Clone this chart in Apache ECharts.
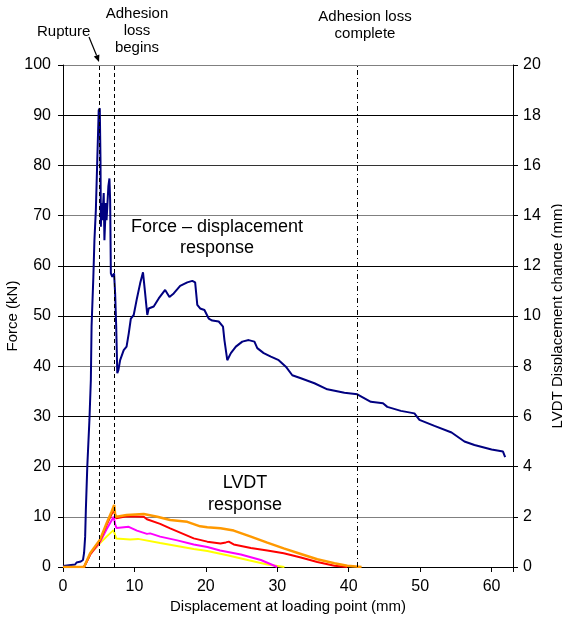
<!DOCTYPE html>
<html>
<head>
<meta charset="utf-8">
<script src="https://cdn.jsdelivr.net/npm/echarts@6/dist/echarts.min.js"></script>
<style>
html,body{margin:0;padding:0;background:#fff;}
#chart{width:562px;height:619px;}
</style>
</head>
<body>
<div id="chart"></div>
<script>
// ---- Data (displacement mm, value) ----
const forceCurve = [
  [0,0.2],[1.7,0.5],[1.9,0.9],[2.5,1.1],[2.8,1.4],[2.95,2.8],[3.1,6],[3.2,11.4],[3.4,20],[3.7,29.3],
  [3.9,37.3],[4.0,47.9],[4.25,57.8],[4.4,65.1],[4.6,71.1],[4.8,81.1],[5.0,91.0],[5.15,91.4],[5.25,81],
  [5.3,67.8],[5.4,72.5],[5.5,69.1],[5.7,74.5],[5.8,65.1],[6.0,72.5],[6.1,69.1],[6.35,75.8],[6.5,77.4],
  [6.6,73.1],[6.7,58.5],[6.9,57.8],[7.15,58.5],[7.3,54.5],[7.45,47.9],[7.6,38.6],[7.75,39.2],[8.0,41.2],
  [8.5,43.2],[8.9,43.9],[9.2,46.5],[9.5,49.5],[9.9,50.2],[10.35,53.5],[10.8,56.5],[11.2,58.7],[11.4,58.8],
  [11.5,54.5],[11.75,54.2],[11.8,50.2],[12.0,51.5],[12.7,51.9],[13.4,53.5],[14.3,55.2],[14.9,53.8],
  [15.5,54.5],[16.4,56.0],[17.4,56.7],[18.1,57.0],[18.5,56.7],[18.8,52.2],[19.2,51.5],[19.8,51.2],
  [20.4,49.5],[20.9,49.1],[21.8,48.9],[22.4,47.9],[22.6,45.2],[23.0,41.2],[23.5,42.6],[24.2,43.9],
  [25.1,44.9],[26.0,45.2],[26.8,44.9],[27.2,43.6],[28.1,42.6],[29.1,41.9],[30.2,41.2],[31.2,39.9],
  [32.1,38.2],[33.3,37.6],[35.2,36.6],[37.0,35.4],[39.4,34.7],[41.2,34.4],[43.1,32.9],[44.8,32.6],
  [45.4,31.9],[47.3,31.1],[49.2,30.6],[49.9,29.3],[52.0,28.1],[54.4,26.8],[56.2,25.0],[57.6,24.3],
  [60.0,23.4],[61.6,23.0],[61.9,21.9]
];
const lvdtOrange = [
  [0,0],[2.95,0],[3.8,0.55],[5.2,1.1],[6.1,1.74],[6.8,2.2],[7.16,2.47],[7.3,2.1],[7.5,2.0],[8.9,2.07],
  [11.3,2.11],[13.2,2.0],[15.0,1.87],[17.4,1.8],[19.2,1.62],[20.2,1.58],[22.05,1.54],[23.9,1.45],
  [26.3,1.21],[28.6,0.97],[30.9,0.74],[33.3,0.52],[35.6,0.31],[38.0,0.15],[39.8,0.05],[41.8,0]
];
const lvdtRed = [
  [0,0],[2.95,0],[3.8,0.5],[5.2,1.05],[6.1,1.68],[6.8,2.1],[7.07,2.27],[7.45,1.94],[8.9,2.02],
  [11.3,2.0],[11.75,1.9],[13.6,1.72],[15.0,1.54],[18.3,1.14],[20.2,1.01],[22.05,0.94],[22.8,0.98],
  [23.2,1.01],[23.9,0.9],[26.3,0.76],[28.6,0.66],[30.9,0.55],[33.3,0.38],[35.6,0.2],[38.0,0.05],[39.8,0]
];
const lvdtMagenta = [
  [0,0],[2.95,0],[3.8,0.5],[5.2,1.0],[6.1,1.5],[6.8,1.85],[7.1,2.0],[7.3,1.7],[7.5,1.55],[9.2,1.6],
  [10.35,1.45],[11.75,1.32],[12.2,1.34],[13.6,1.21],[16.0,1.06],[18.3,0.9],[20.2,0.8],[22.0,0.66],
  [24.9,0.5],[27.7,0.28],[30.0,0]
];
const lvdtYellow = [
  [0,0],[2.95,0],[3.8,0.5],[5.2,0.95],[6.1,1.21],[7.07,1.47],[7.45,1.14],[9.4,1.1],[10.5,1.12],
  [13.6,0.96],[18.3,0.72],[20.2,0.64],[23.0,0.47],[26.0,0.27],[28.6,0.1],[31.0,0]
];
const eventLines = [5.1, 7.15, 41.2];
const xTicks = [0, 10, 20, 30, 40, 50, 60];

const FONT = "'Liberation Sans', Arial, sans-serif";
const chart = echarts.init(document.getElementById('chart'), null, {renderer: 'canvas'});

const gridColors = ['#000','#808080','#000','#000','#808080','#000','#000','#808080','#333','#000','#808080'];

const option = {
  animation: false,
  backgroundColor: '#fff',
  textStyle: {fontFamily: FONT},
  grid: {left: 63, right: 49, top: 65, bottom: 52, containLabel: false, outerBoundsMode: 'none'},
  xAxis: {
    type: 'value', min: 0, max: 63, interval: 10,
    axisLine: {show: true, lineStyle: {color: '#000', width: 1}},
    axisTick: {show: true, length: 5, lineStyle: {color: '#000'}},
    axisLabel: {color: '#000', fontSize: 16, fontFamily: FONT, margin: 12,
      formatter: v => xTicks.includes(v) ? String(v) : ''},
    splitLine: {show: false},
    name: 'Displacement at loading point (mm)', nameLocation: 'middle', nameGap: 32, nameMoveOverlap: false,
    nameTextStyle: {color: '#000', fontSize: 15, fontFamily: FONT}
  },
  yAxis: [
    {
      type: 'value', min: 0, max: 100, interval: 10, position: 'left',
      axisLine: {show: true, lineStyle: {color: '#000', width: 1}},
      axisTick: {show: true, length: 5, lineStyle: {color: '#000'}},
      axisLabel: {color: '#000', fontSize: 16, fontFamily: FONT, margin: 12},
      splitLine: {show: true, lineStyle: {color: gridColors, width: 1}},
      name: 'Force (kN)', nameLocation: 'middle', nameGap: 43, nameRotate: 90, nameMoveOverlap: false,
      nameTextStyle: {color: '#000', fontSize: 15, fontFamily: FONT}
    },
    {
      type: 'value', min: 0, max: 20, interval: 2, position: 'right',
      axisLine: {show: true, lineStyle: {color: '#000', width: 1}},
      axisTick: {show: true, length: 5, lineStyle: {color: '#000'}},
      axisLabel: {color: '#000', fontSize: 16, fontFamily: FONT, margin: 10},
      splitLine: {show: false},
      name: 'LVDT Displacement change (mm)', nameLocation: 'middle', nameGap: 37, nameRotate: 90, nameMoveOverlap: false,
      nameTextStyle: {color: '#000', fontSize: 15, fontFamily: FONT}
    }
  ],
  series: [
    {
      name: 'Force', type: 'line', yAxisIndex: 0, data: forceCurve, showSymbol: false,
      lineStyle: {color: '#000080', width: 2}, z: 3,
      markLine: {
        silent: true, symbol: ['none', 'none'], label: {show: false},
        lineStyle: {color: '#000', width: 1},
        data: [
          {xAxis: eventLines[0], lineStyle: {type: [4, 3], color: '#000', width: 1}},
          {xAxis: eventLines[1], lineStyle: {type: [4, 3], color: '#000', width: 1}},
          {xAxis: eventLines[2], lineStyle: {type: [5, 3, 1, 3], color: '#000', width: 1}}
        ]
      }
    },
    {name: 'Y', type: 'line', yAxisIndex: 1, data: lvdtYellow, showSymbol: false,
      lineStyle: {color: '#FFFF00', width: 2}, z: 4},
    {name: 'M', type: 'line', yAxisIndex: 1, data: lvdtMagenta, showSymbol: false,
      lineStyle: {color: '#FF00FF', width: 2}, z: 4},
    {name: 'R', type: 'line', yAxisIndex: 1, data: lvdtRed, showSymbol: false,
      lineStyle: {color: '#FF0000', width: 2}, z: 4},
    {name: 'O', type: 'line', yAxisIndex: 1, data: lvdtOrange, showSymbol: false,
      lineStyle: {color: '#FF9900', width: 2.5}, z: 4}
  ],
  graphic: [
    {type: 'text', left: 37, top: 24, style: {text: 'Rupture', fill: '#000', font: '15px ' + FONT}},
    {type: 'line', shape: {x1: 89, y1: 37, x2: 96.6, y2: 55.4}, style: {stroke: '#000', lineWidth: 1.2}},
    {type: 'polygon', shape: {points: [[99, 62], [93.8, 56.4], [99.4, 54.4]]}, style: {fill: '#000'}},
    {type: 'text', x: 137, y: 5, style: {text: 'Adhesion\nloss\nbegins', fill: '#000', font: '15px ' + FONT,
      align: 'center', verticalAlign: 'top', lineHeight: 17}},
    {type: 'text', x: 365, y: 8, style: {text: 'Adhesion loss\ncomplete', fill: '#000', font: '15px ' + FONT,
      align: 'center', verticalAlign: 'top', lineHeight: 17}},
    {type: 'text', x: 217, y: 217, style: {text: 'Force \u2013 displacement\nresponse', fill: '#000', font: '18px ' + FONT,
      align: 'center', verticalAlign: 'top', lineHeight: 21}},
    {type: 'text', x: 245, y: 472, style: {text: 'LVDT\nresponse', fill: '#000', font: '18px ' + FONT,
      align: 'center', verticalAlign: 'top', lineHeight: 22}}
  ]
};
chart.setOption(option);
</script>
</body>
</html>
